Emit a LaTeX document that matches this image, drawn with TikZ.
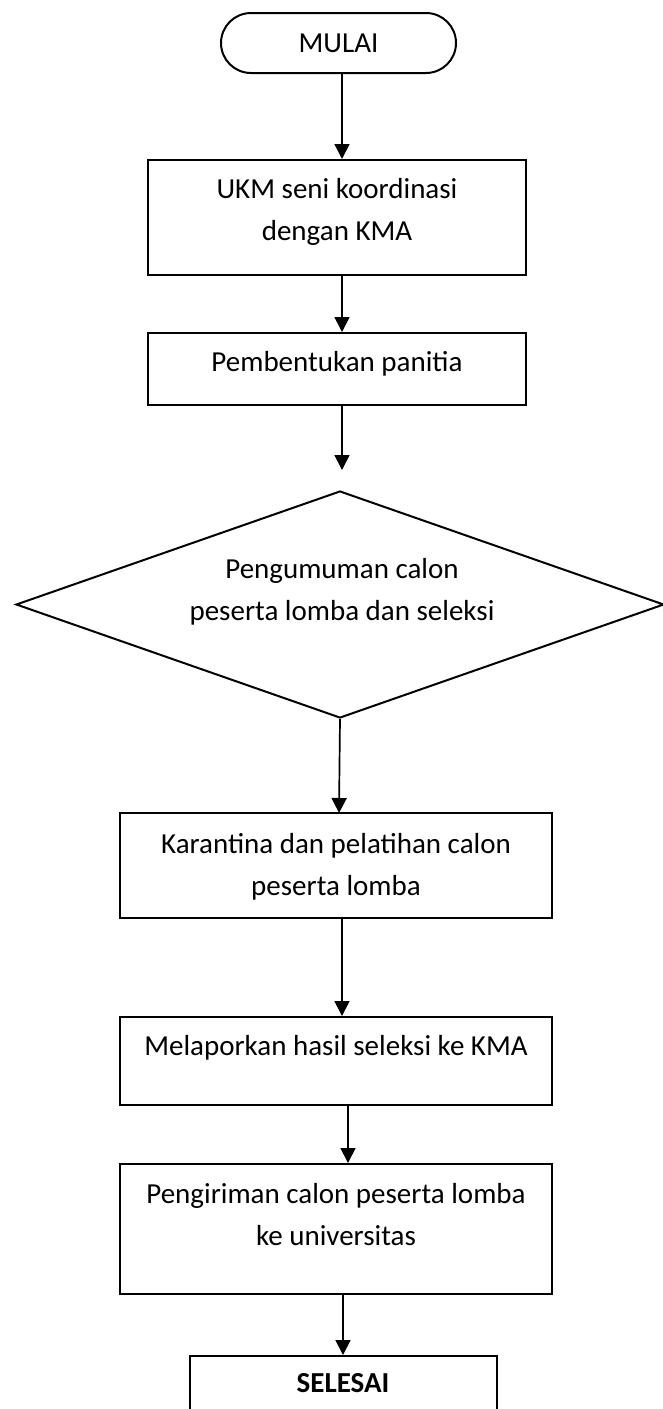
\documentclass[tikz,border=0pt]{standalone}
\usepackage{fontspec}
\setmainfont{Carlito}
\usetikzlibrary{arrows.meta,shapes.geometric}
\begin{document}
\begin{tikzpicture}[x=1pt,y=-1pt,
  box/.style={draw, line width=2pt, inner sep=0pt},
  lbl/.style={font=\fontsize{29}{42}\selectfont, align=center, inner sep=0pt, anchor=base},
  arr/.style={line width=1.7pt, -{Triangle[width=15pt,length=15pt]}}]
\useasboundingbox (0,0) rectangle (662,1409);
% shapes
\node[box, rounded corners=30pt, minimum width=235pt, minimum height=60pt,
      font=\fontsize{29}{42}\selectfont] (m) at (338.5,43) {MULAI};
\node[box, minimum width=378pt, minimum height=115pt] (b1) at (337,217.5) {};
\node[box, minimum width=378pt, minimum height=72pt] (b2) at (337,369) {};
\node[box, diamond, minimum width=648pt, minimum height=227pt] (d) at (340,604.5) {};
\node[box, minimum width=432pt, minimum height=105pt] (b3) at (336,865.5) {};
\node[box, minimum width=432pt, minimum height=88pt] (b4) at (336,1061) {};
\node[box, minimum width=432pt, minimum height=130pt] (b5) at (336,1229) {};
\node[box, minimum width=307pt, minimum height=74pt] (e) at (343.5,1393) {};
% texts (anchor = baseline of last line)
\node[lbl] (t1) at (337,240) {UKM seni koordinasi\\dengan KMA};
\node[lbl] (t2) at (337,371) {Pembentukan panitia};
\node[lbl] (td) at (342,620) {Pengumuman calon\\peserta lomba dan seleksi};
\node[lbl] (t3) at (336,895) {Karantina dan pelatihan calon\\peserta lomba};
\node[lbl] (t4) at (336,1055) {Melaporkan hasil seleksi ke KMA};
\node[lbl] (t5) at (336,1245) {Pengiriman calon peserta lomba\\ke universitas};
\node[lbl, font=\fontsize{29}{42}\selectfont\bfseries] (te) at (343,1392) {SELESAI};
% connectors
\coordinate (ax) at (342,0);
\coordinate (bx) at (348,0);
\coordinate (cx) at (343,0);
\coordinate (g) at (342,470);
\coordinate (h) at (339,813);
\draw[arr] (m.south -| ax) -- (b1.north -| ax);
\draw[arr] (b1.south -| ax) -- (b2.north -| ax);
\draw[arr] (b2.south -| ax) -- (g);
\draw[arr] (d.south) -- (h);
\draw[arr] (b3.south -| ax) -- (b4.north -| ax);
\draw[arr] (b4.south -| bx) -- (b5.north -| bx);
\draw[arr] (b5.south -| cx) -- (e.north -| cx);
\end{tikzpicture}
\end{document}
